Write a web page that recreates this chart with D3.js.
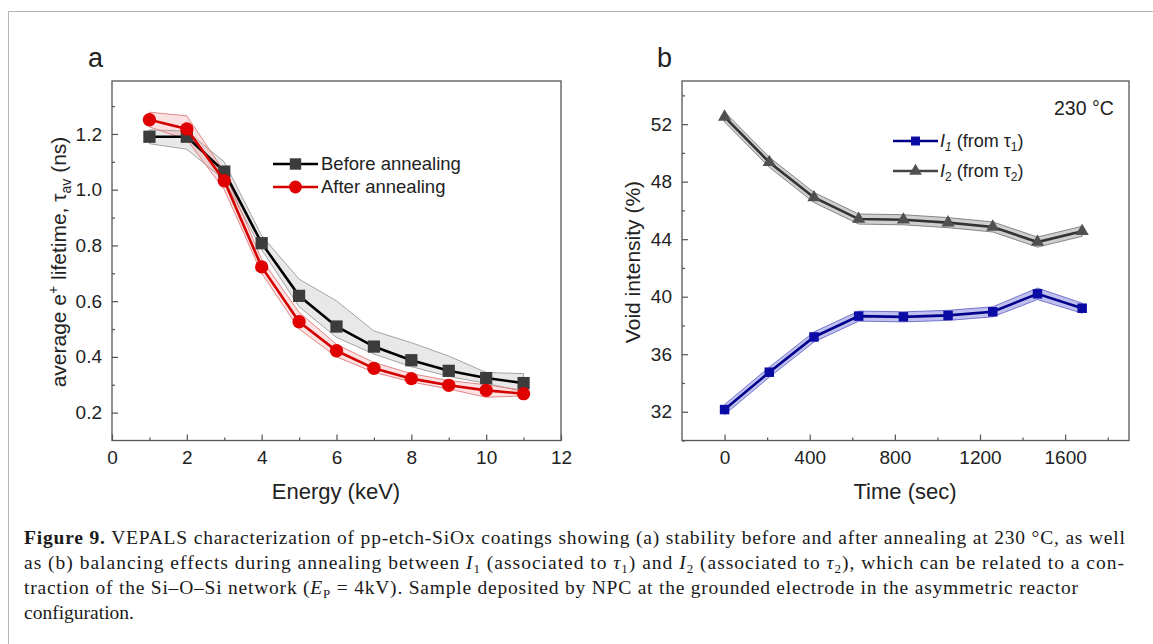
<!DOCTYPE html>
<html><head><meta charset="utf-8">
<script src="https://cdn.jsdelivr.net/npm/d3@7"></script>
<style>
body{margin:0;background:#fff;}
svg{display:block;font-family:"Liberation Sans",Arial,sans-serif;}
</style></head><body>
<svg id="fig" width="1153" height="644"></svg>
<script>
// panel a: average positron lifetime vs implantation energy
const energy = [1, 2, 3, 4, 5, 6, 7, 8, 9, 10, 11];
const beforeTau = [1.19, 1.19, 1.065, 0.808, 0.619, 0.509, 0.437, 0.388, 0.35, 0.324, 0.306];
const beforeLo = [1.165, 1.145, 1.035, 0.785, 0.58, 0.47, 0.41, 0.365, 0.33, 0.305, 0.275];
const beforeHi = [1.215, 1.21, 1.10, 0.835, 0.679, 0.601, 0.493, 0.451, 0.403, 0.344, 0.34];
const afterTau = [1.251, 1.218, 1.032, 0.723, 0.526, 0.422, 0.359, 0.322, 0.298, 0.28, 0.268];
const afterLo = [1.225, 1.18, 1.0, 0.70, 0.50, 0.40, 0.345, 0.31, 0.285, 0.255, 0.26];
const afterHi = [1.278, 1.265, 1.065, 0.75, 0.56, 0.445, 0.38, 0.34, 0.315, 0.30, 0.28];
const energyTicks = [0, 2, 4, 6, 8, 10, 12];
const tauTicks = [0.2, 0.4, 0.6, 0.8, 1.0, 1.2];

// panel b: void intensities during annealing
const timeSec = [0, 210, 420, 630, 840, 1050, 1260, 1470, 1680];
const i1 = [32.15, 34.75, 37.2, 38.65, 38.6, 38.7, 38.95, 40.2, 39.2];
const i1Lo = [31.8, 34.4, 36.85, 38.3, 38.25, 38.35, 38.6, 39.8, 38.85];
const i1Hi = [32.5, 35.1, 37.55, 39.0, 38.95, 39.05, 39.3, 40.6, 39.55];
const i2 = [52.5, 49.35, 46.9, 45.4, 45.35, 45.15, 44.85, 43.8, 44.55];
const i2Lo = [52.15, 49.0, 46.55, 45.05, 45.0, 44.8, 44.5, 43.45, 44.2];
const i2Hi = [52.85, 49.7, 47.25, 45.75, 45.7, 45.5, 45.2, 44.15, 44.9];
const timeTicks = [0, 400, 800, 1200, 1600];
const voidTicks = [32, 36, 40, 44, 48, 52];

const svg = d3.select("#fig");
svg.append("path").attr("d", "M8.5,644V11.5H1153").attr("fill", "none").attr("stroke", "#b4b4b4");

const drawAxes = (x, y, xt, yt, xMinor, yMinor, fmtY) => {
    const [x0, x1] = x.range(), [y1, y0] = y.range();
    const axis = (a, t, size, fmt) => a.tickValues(t).tickSizeInner(-size).tickSizeOuter(0).tickPadding(10).tickFormat(fmt);
    const style = g => {
        g.select(".domain").remove();
        g.selectAll("line").attr("stroke", "#555").attr("stroke-width", 1.2);
        g.selectAll("text").attr("fill", "#222").style("font-size", "19px").style("font-family", "Liberation Sans, Arial, sans-serif");
    };
    svg.append("g").attr("transform", `translate(0,${y1})`).call(axis(d3.axisBottom(x), xt, 6, d3.format("d"))).call(style);
    svg.append("g").attr("transform", `translate(0,${y1})`).call(axis(d3.axisBottom(x), xMinor, 3, "")).call(style);
    svg.append("g").attr("transform", `translate(${x0},0)`).call(axis(d3.axisLeft(y), yt, 6, fmtY)).call(style);
    svg.append("g").attr("transform", `translate(${x0},0)`).call(axis(d3.axisLeft(y), yMinor, 3, "")).call(style);
    svg.append("rect").attr("x", x0).attr("y", y0).attr("width", x1 - x0).attr("height", y1 - y0)
        .attr("fill", "none").attr("stroke", "#555").attr("stroke-width", 1.3);
};

const band = (x, y, xs, lo, hi, fill, stroke) => {
    const pts = xs.map((d, i) => ({x: d, lo: lo[i], hi: hi[i]}));
    svg.append("path").datum(pts)
        .attr("d", d3.area().x(d => x(d.x)).y0(d => y(d.lo)).y1(d => y(d.hi)))
        .attr("fill", fill).attr("stroke", stroke).attr("stroke-width", 0.9);
};
const series = (x, y, xs, ys, color, sym, size, mcolor) => {
    svg.append("path").datum(xs.map((d, i) => [d, ys[i]]))
        .attr("d", d3.line().x(d => x(d[0])).y(d => y(d[1])))
        .attr("fill", "none").attr("stroke", color).attr("stroke-width", 2.6);
    svg.append("g").selectAll("path").data(xs.map((d, i) => [d, ys[i]])).enter().append("path")
        .attr("transform", d => `translate(${x(d[0])},${y(d[1])})`)
        .attr("d", d3.symbol(sym, size)).attr("fill", mcolor);
};
const legendRow = (x0, y0, color, sym, size, mcolor) => {
    svg.append("line").attr("x1", x0).attr("x2", x0 + 45).attr("y1", y0).attr("y2", y0).attr("stroke", color).attr("stroke-width", 2.6);
    svg.append("path").attr("transform", `translate(${x0 + 22.5},${y0})`).attr("d", d3.symbol(sym, size)).attr("fill", mcolor);
};

// rich text: segments [text, flags]; flags are space separated words: i, b, sub, sup
const rich = (t, segs, small, shiftSub, shiftSup) => {
    let shift = 0;
    segs.forEach(([s, f = ""]) => {
        const fl = f.split(" ");
        const target = fl.includes("sub") ? shiftSub : fl.includes("sup") ? -shiftSup : 0;
        const sp = t.append("tspan").attr("dy", target - shift).text(s);
        shift = target;
        if (fl.includes("sub") || fl.includes("sup")) sp.style("font-size", small + "px");
        if (fl.includes("i")) sp.style("font-style", "italic");
        if (fl.includes("b")) sp.style("font-weight", "bold");
    });
    return t;
};

// ---- panel a
const xa = d3.scaleLinear().domain([0, 12]).range([112, 561]);
const ya = d3.scaleLinear().domain([0.1, 1.39]).range([440.5, 81]);
drawAxes(xa, ya, energyTicks, tauTicks, [1, 3, 5, 7, 9, 11], [0.3, 0.5, 0.7, 0.9, 1.1, 1.3], d3.format(".1f"));
band(xa, ya, energy, beforeLo, beforeHi, "rgba(190,190,190,0.35)", "#9a9a9a");
band(xa, ya, energy, afterLo, afterHi, "rgba(235,120,120,0.22)", "#e07a7a");
series(xa, ya, energy, beforeTau, "#000", d3.symbolSquare, 150, "#3c3c3c");
series(xa, ya, energy, afterTau, "#d40000", d3.symbolCircle, 140, "#e00000");
legendRow(273, 164, "#000", d3.symbolSquare, 130, "#3c3c3c");
legendRow(273, 187, "#d40000", d3.symbolCircle, 130, "#e00000");
const txt = (x, y, s, size) => svg.append("text").attr("x", x).attr("y", y).attr("fill", "#222").style("font-size", size + "px").text(s);
txt(321, 170, "Before annealing", 18.5);
txt(321, 193, "After annealing", 18.5);
txt(88, 67, "a", 27);
svg.append("text").attr("x", 336).attr("y", 499).attr("text-anchor", "middle").attr("fill", "#222").style("font-size", "22px").text("Energy (keV)");
rich(svg.append("text").attr("transform", "translate(66,262) rotate(-90)").attr("text-anchor", "middle")
    .attr("fill", "#222").style("font-size", "21px"),
    [["average e"], ["+", "sup"], [" lifetime, τ"], ["av", "sub"], [" (ns)"]], 14, 5, 8);

// ---- panel b
const xb = d3.scaleLinear().domain([-200, 1900]).range([682, 1129]);
const yb = d3.scaleLinear().domain([30, 55]).range([440.5, 81]);
drawAxes(xb, yb, timeTicks, voidTicks, [200, 600, 1000, 1400, 1800], [30, 34, 38, 42, 46, 50, 54], d3.format("d"));
band(xb, yb, timeSec, i2Lo, i2Hi, "#cfcfcf", "#7a7a7a");
band(xb, yb, timeSec, i1Lo, i1Hi, "#c0c0ee", "#6a6ac8");
series(xb, yb, timeSec, i2, "#333", d3.symbolTriangle, 75, "#505050");
series(xb, yb, timeSec, i1, "#00008b", d3.symbolSquare, 90, "#0a0aa5");
legendRow(893, 141, "#00008b", d3.symbolSquare, 80, "#0a0aa5");
legendRow(893, 171, "#444", d3.symbolTriangle, 70, "#505050");
const lg = (y, n) => rich(svg.append("text").attr("x", 940).attr("y", y + 6).attr("fill", "#222").style("font-size", "18px"),
    [["I", "i"], [n, n === "1" ? "sub i" : "sub"], [" (from τ"], [n, "sub"], [")"]], 12, 4, 0);
lg(141, "1");
lg(171, "2");
txt(1054, 115, "230 °C", 19.5);
txt(657, 67, "b", 27);
svg.append("text").attr("x", 905).attr("y", 499).attr("text-anchor", "middle").attr("fill", "#222").style("font-size", "22px").text("Time (sec)");
svg.append("text").attr("transform", "translate(640,262) rotate(-90)").attr("text-anchor", "middle")
    .attr("fill", "#222").style("font-size", "21px").text("Void intensity (%)");

// ---- caption
const cap = svg.append("g").style("font-family", "Liberation Serif, Times New Roman, serif").style("font-size", "19.5px").attr("fill", "#1a1a1a");
const line = (y, len, segs) => {
    const t = cap.append("text").attr("x", 24).attr("y", y);
    if (len) t.attr("textLength", len).attr("lengthAdjust", "spacing");
    return rich(t, segs, 13, 4, 0);
};
line(544, 1101, [["Figure 9.", "b"], [" VEPALS characterization of pp-etch-SiOx coatings showing (a) stability before and after annealing at 230 °C, as well"]]);
line(569, 1100, [["as (b) balancing effects during annealing between "], ["I", "i"], ["1", "sub"], [" (associated to "], ["τ", "i"], ["1", "sub"],
    [") and "], ["I", "i"], ["2", "sub"], [" (associated to "], ["τ", "i"], ["2", "sub"], ["), which can be related to a con-"]]);
line(594, 1054, [["traction of the Si–O–Si network ("], ["E", "i"], ["P", "sub"], [" = 4kV). Sample deposited by NPC at the grounded electrode in the asymmetric reactor"]]);
line(619, 0, [["configuration."]]);
</script>
</body></html>
